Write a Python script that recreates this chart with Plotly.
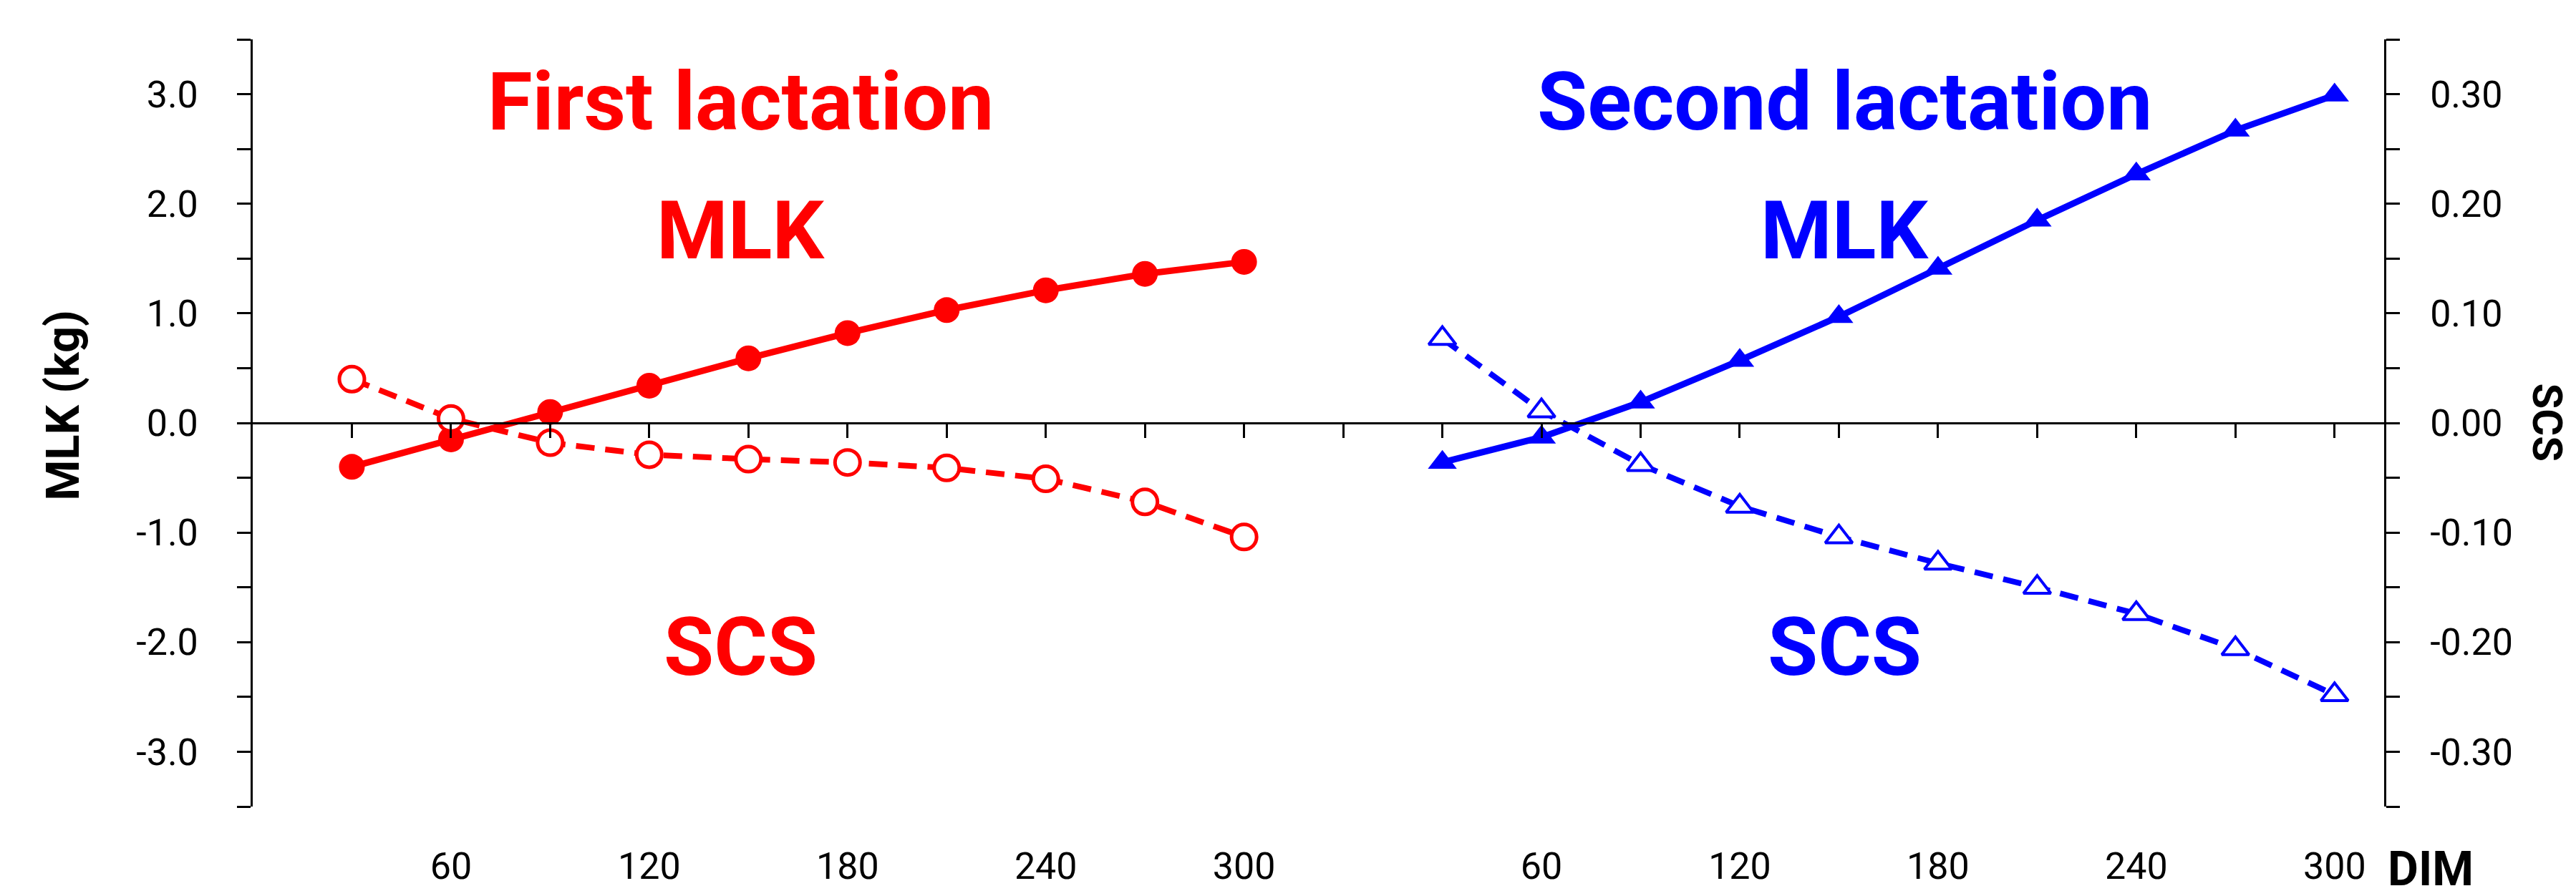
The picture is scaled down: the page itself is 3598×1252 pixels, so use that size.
import plotly.graph_objects as go

# ---- data ----
days = [30, 60, 90, 120, 150, 180, 210, 240, 270, 300]
mlk_first = [-0.40, -0.15, 0.10, 0.34, 0.59, 0.82, 1.03, 1.21, 1.36, 1.47]
scs_first = [0.040, 0.004, -0.018, -0.029, -0.033, -0.036, -0.041, -0.051, -0.072, -0.104]
mlk_second = [-0.36, -0.13, 0.19, 0.57, 0.97, 1.41, 1.85, 2.27, 2.67, 2.99]
scs_second = [0.077, 0.011, -0.038, -0.076, -0.104, -0.128, -0.150, -0.174, -0.206, -0.248]

second_offset = 330  # second lactation placed after a one-slot gap
x_first = days
x_second = [d + second_offset for d in days]

label_days = [60, 120, 180, 240, 300]
xtick_vals = label_days + [d + second_offset for d in label_days]
xtick_text = [str(d) for d in label_days] * 2
xtick_marks = list(range(30, 631, 30))

y_left_vals = [3, 2, 1, 0, -1, -2, -3]
y_left_text = ["3.0", "2.0", "1.0", "0.0", "-1.0", "-2.0", "-3.0"]
y_left_minor = [3.5, 2.5, 1.5, 0.5, -0.5, -1.5, -2.5, -3.5]
y_right_vals = [0.3, 0.2, 0.1, 0.0, -0.1, -0.2, -0.3]
y_right_text = ["0.30", "0.20", "0.10", "0.00", "-0.10", "-0.20", "-0.30"]
y_right_minor = [0.35, 0.25, 0.15, 0.05, -0.05, -0.15, -0.25, -0.35]

RED = "#FF0000"
BLUE = "#0000FF"
TICKFONT = dict(family="Roboto", size=52, color="#000000")

fig = go.Figure()

fig.add_trace(go.Scatter(
    x=x_first, y=scs_first, yaxis="y2", mode="lines+markers",
    line=dict(color=RED, width=8, dash="26px,15px"),
    marker=dict(symbol="circle", size=35, color="white", line=dict(color=RED, width=5)),
    showlegend=False, hoverinfo="skip"))
fig.add_trace(go.Scatter(
    x=x_second, y=scs_second, yaxis="y2", mode="lines+markers",
    line=dict(color=BLUE, width=8, dash="26px,15px"),
    marker=dict(symbol="triangle-up", size=33, color="white", line=dict(color=BLUE, width=4)),
    showlegend=False, hoverinfo="skip"))
fig.add_trace(go.Scatter(
    x=x_first, y=mlk_first, mode="lines+markers",
    line=dict(color=RED, width=9),
    marker=dict(symbol="circle", size=36, color=RED),
    showlegend=False, hoverinfo="skip"))
fig.add_trace(go.Scatter(
    x=x_second, y=mlk_second, mode="lines+markers",
    line=dict(color=BLUE, width=9),
    marker=dict(symbol="triangle-up", size=35, color=BLUE),
    showlegend=False, hoverinfo="skip"))
# carrier for the zero-line axis with tick marks
fig.add_trace(go.Scatter(x=[None], y=[None], xaxis="x2", yaxis="y",
                         showlegend=False, hoverinfo="skip"))

XR = [0, 645]

fig.update_layout(
    width=3598, height=1252,
    margin=dict(l=353, r=268, t=55, b=125, pad=0),
    paper_bgcolor="white", plot_bgcolor="white",
    font=dict(family="Roboto", color="#000000"),
    xaxis=dict(range=XR, domain=[0, 1], anchor="y", showline=False, ticks="",
               tickmode="array", tickvals=xtick_vals, ticktext=xtick_text,
               tickfont=TICKFONT, showgrid=False, zeroline=False,
               ticklabelstandoff=48, automargin=False),
    xaxis2=dict(range=XR, overlaying="x", anchor="free", position=0.5, side="bottom",
                showline=True, linecolor="#000000", linewidth=2.5,
                ticks="outside", ticklen=19, tickwidth=2.5, tickcolor="#000000",
                tickmode="array", tickvals=xtick_marks, showticklabels=False,
                showgrid=False, zeroline=False, automargin=False),
    yaxis=dict(range=[-3.5, 3.5], domain=[0, 1], anchor="x", side="left",
               showline=True, linecolor="#000000", linewidth=2.5,
               ticks="outside", ticklen=19, tickwidth=2.5, tickcolor="#000000",
               tickmode="array", tickvals=y_left_vals, ticktext=y_left_text,
               minor=dict(tickmode="array", tickvals=y_left_minor, ticks="outside",
                          ticklen=19, tickwidth=2.5, tickcolor="#000000", showgrid=False),
               tickfont=TICKFONT, showgrid=False, zeroline=False,
               ticklabelstandoff=44, automargin=False),
    yaxis2=dict(range=[-0.35, 0.35], overlaying="y", anchor="x", side="right",
                showline=True, linecolor="#000000", linewidth=2.5,
                ticks="outside", ticklen=19, tickwidth=2.5, tickcolor="#000000",
                tickmode="array", tickvals=y_right_vals, ticktext=y_right_text,
                minor=dict(tickmode="array", tickvals=y_right_minor, ticks="outside",
                           ticklen=19, tickwidth=2.5, tickcolor="#000000", showgrid=False),
                tickfont=TICKFONT, showgrid=False, zeroline=False,
                ticklabelstandoff=32, automargin=False),
)

BIG = 114
ann = [
    dict(text="First lactation", x=0.229, y=0.919, color=RED, size=BIG),
    dict(text="MLK", x=0.229, y=0.7506, color=RED, size=BIG),
    dict(text="SCS", x=0.229, y=0.208, color=RED, size=BIG),
    dict(text="Second lactation", x=0.747, y=0.919, color=BLUE, size=BIG),
    dict(text="MLK", x=0.747, y=0.7506, color=BLUE, size=BIG),
    dict(text="SCS", x=0.747, y=0.208, color=BLUE, size=BIG),
]
for a in ann:
    fig.add_annotation(text=a["text"], xref="paper", yref="paper", x=a["x"], y=a["y"],
                       xanchor="center", yanchor="middle", showarrow=False,
                       font=dict(family="Roboto", size=a["size"], color=a["color"], weight="bold"))

fig.add_annotation(text="MLK (kg)", xref="paper", yref="paper", x=-0.089, y=0.523,
                   textangle=-90, xanchor="center", yanchor="middle", showarrow=False,
                   font=dict(family="Roboto", size=65, color="#000000", weight="bold"))
fig.add_annotation(text="SCS", xref="paper", yref="paper", x=1.0765, y=0.5007,
                   textangle=90, xanchor="center", yanchor="middle", showarrow=False,
                   font=dict(family="Roboto", size=58, color="#000000", weight="bold"))
fig.add_annotation(text="DIM", xref="paper", yref="paper", x=1.0218, y=-0.082,
                   xanchor="center", yanchor="middle", showarrow=False,
                   font=dict(family="Roboto", size=66, color="#000000", weight="bold"))

fig.write_html("out.html",
               config={"displayModeBar": False},
               post_script="document.body.style.margin='0';document.body.style.overflow='hidden';")
